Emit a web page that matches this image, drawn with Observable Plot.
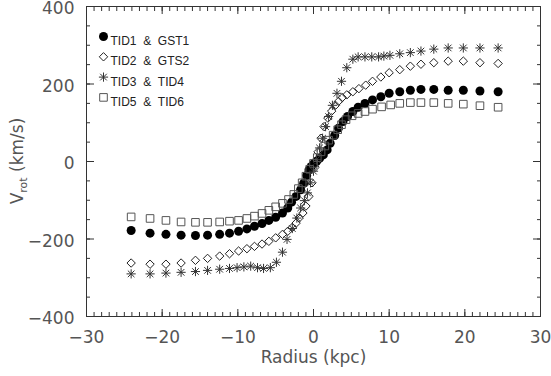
<!DOCTYPE html>
<html><head><meta charset="utf-8">
<script src="https://cdn.jsdelivr.net/npm/d3@7"></script>
<script src="https://cdn.jsdelivr.net/npm/@observablehq/plot@0.6"></script>
<style>
body{margin:0;background:#fff;}
</style></head><body><div id="chart"></div>
<script>
// TID1 & GST1 (filled circles)
const radiusTID1 = [-24.1,-21.6,-19.5,-17.5,-15.6,-14.0,-12.4,-11.1,-9.9,-8.8,-7.8,-6.8,-5.9,-5.0,-4.1,-3.4,-2.9,-2.3,-1.7,-1.3,-0.9,-0.6,-0.3,0.0,0.4,0.8,1.3,1.8,2.2,2.8,3.3,3.9,4.5,5.2,5.9,6.8,7.8,8.9,10.0,11.4,12.8,14.2,15.9,17.8,19.8,22.0,24.4];
const vrotTID1   = [-178,-185,-188,-190,-191,-190,-188,-185,-180,-174,-167,-160,-152,-144,-133,-120,-105,-90,-73,-56,-36,-22,-13,-6,0,8,17,30,47,67,86,103,116,129,140,150,159,167,176,180,184,186,186,184,184,182,180];
// TID2 & GTS2 (open diamonds)
const radiusTID2 = [-24.1,-21.6,-19.5,-17.5,-15.6,-14.0,-12.4,-11.1,-9.9,-8.8,-7.8,-6.8,-5.9,-5.0,-4.1,-3.4,-2.8,-2.3,-1.9,-1.4,-1.0,-0.6,-0.2,0.2,0.6,1.0,1.4,1.9,2.4,2.9,3.3,3.8,4.4,5.2,6.0,6.9,7.8,8.9,10.0,11.4,12.8,14.2,15.9,17.8,19.8,22.0,24.4];
const vrotTID2   = [-262,-265,-265,-262,-255,-250,-244,-238,-231,-225,-219,-213,-206,-197,-188,-180,-170,-159,-146,-133,-115,-90,-55,-15,25,60,90,112,130,145,155,165,172,180,188,197,207,218,229,237,246,251,255,259,259,255,253];
// TID3 & TID4 (asterisks)
const radiusTID3 = [-24.1,-21.6,-19.5,-17.5,-15.6,-14.0,-12.4,-11.1,-10.1,-9.2,-8.3,-7.4,-6.6,-5.7,-4.9,-4.1,-3.5,-2.8,-2.2,-1.7,-1.2,-0.8,-0.4,0.0,0.4,0.8,1.2,1.6,2.0,2.5,3.1,3.7,4.4,5.2,5.9,6.8,7.7,8.6,9.3,10.1,11.4,12.8,14.2,15.9,17.8,19.8,22.0,24.4];
const vrotTID3   = [-290,-290,-288,-286,-284,-281,-278,-276,-274,-272,-270,-274,-276,-274,-260,-234,-201,-173,-146,-120,-101,-81,-55,-25,5,35,60,90,116,145,176,207,242,264,270,270,270,270,272,274,278,281,285,290,293,293,293,293];
// TID5 & TID6 (open squares)
const radiusTID5 = [-24.1,-21.6,-19.5,-17.5,-15.6,-14.0,-12.4,-11.1,-9.9,-8.8,-7.8,-6.8,-5.9,-5.0,-4.1,-3.3,-2.6,-2.0,-1.5,-1.0,-0.5,0.0,0.5,1.0,1.5,2.0,2.6,3.2,3.7,4.3,5.1,5.9,6.8,7.8,9.0,10.2,11.4,12.8,14.2,15.9,17.8,19.8,22.0,24.4];
const vrotTID5   = [-143,-147,-152,-156,-157,-157,-156,-154,-152,-147,-141,-134,-126,-117,-108,-98,-85,-70,-55,-38,-20,-5,10,25,40,55,68,82,95,108,118,124,129,135,141,146,150,152,152,152,150,148,144,140];

const legendLabels = ["TID1\u00a0\u00a0&\u00a0\u00a0GST1","TID2\u00a0\u00a0&\u00a0\u00a0GTS2","TID3\u00a0\u00a0&\u00a0\u00a0TID4","TID5\u00a0\u00a0&\u00a0\u00a0TID6"];
const xTickLabels = [-30,-20,-10,0,10,20,30];
const yTickLabels = [-400,-200,0,200,400];
const xMinorTicks = d3.range(-30, 31, 1);
const yMinorTicks = d3.range(-400, 401, 50);

const rows = (r, v) => r.map((x, i) => ({r: x, v: v[i]}));
const dataTID1 = rows(radiusTID1, vrotTID1);
const dataTID2 = rows(radiusTID2, vrotTID2);
const dataTID3 = rows(radiusTID3, vrotTID3);
const dataTID5 = rows(radiusTID5, vrotTID5);

const half = size => Math.sqrt(size / Math.PI);
const squareSym = {draw(c, size){ const h = half(size); c.rect(-h, -h, 2*h, 2*h); }};
const diamondSym = {draw(c, size){ const h = half(size); c.moveTo(0,-h); c.lineTo(h,0); c.lineTo(0,h); c.lineTo(-h,0); c.closePath(); }};
const asteriskSym = {draw(c, size){ const h = half(size), d = h*0.72;
  c.moveTo(0,-h); c.lineTo(0,h); c.moveTo(-h,0); c.lineTo(h,0);
  c.moveTo(-d,-d); c.lineTo(d,d); c.moveTo(-d,d); c.lineTo(d,-d); }};

const styles = [
  {symbol: "circle", r: 4.5, fill: "#000", stroke: "none"},
  {symbol: diamondSym, r: 4.2, fill: "none", stroke: "#222", strokeWidth: 1},
  {symbol: asteriskSym, r: 4.6, fill: "none", stroke: "#333", strokeWidth: 1},
  {symbol: squareSym, r: 3.8, fill: "none", stroke: "#555", strokeWidth: 1}
];
const datasets = [dataTID1, dataTID2, dataTID3, dataTID5];

const legendMarks = [];
legendLabels.forEach((lab, i) => {
  const dy = 30 + i * 20.3;
  legendMarks.push(Plot.dot([lab], {frameAnchor: "top-left", dx: 17, dy, ...styles[i]}));
  legendMarks.push(Plot.text([lab], {frameAnchor: "top-left", dx: 24, dy, text: d => d, textAnchor: "start", fontSize: 12, fontFamily: "Liberation Sans", fill: "#222"}));
});

// inward ticks on all four sides (outward axis ticks shifted back inside the frame)
const tk = (axis, anchor, ticks, size) => {
  const shift = {bottom: {dy: -size}, top: {dy: size}, left: {dx: size}, right: {dx: -size}}[anchor];
  return axis({anchor, ticks, tickSize: size, fill: "none", stroke: "#333", label: null, ...shift});
};
const tickMarks = [
  tk(Plot.axisX, "bottom", xMinorTicks, 4),
  tk(Plot.axisX, "top", xMinorTicks, 4),
  tk(Plot.axisX, "bottom", xTickLabels, 7),
  tk(Plot.axisX, "top", xTickLabels, 7),
  tk(Plot.axisY, "left", yMinorTicks, 4),
  tk(Plot.axisY, "right", yMinorTicks, 4),
  tk(Plot.axisY, "left", yTickLabels, 8),
  tk(Plot.axisY, "right", yTickLabels, 8)
];

const plot = Plot.plot({
  width: 551, height: 376,
  marginLeft: 86, marginRight: 11, marginTop: 6, marginBottom: 60,
  x: {domain: [-30, 30]},
  y: {domain: [-400, 400]},
  style: {fontFamily: "DejaVu Sans", background: "white", color: "#222"},
  marks: [
    Plot.frame({stroke: "#333"}),
    ...tickMarks,
    Plot.axisX({anchor: "bottom", ticks: xTickLabels, tickSize: 0, tickPadding: 14, fontSize: 17, fill: "#555", label: null}),
    Plot.axisY({anchor: "left", ticks: yTickLabels, tickSize: 0, tickPadding: 12, dy: 2.5, fontSize: 17, fill: "#555", label: null}),
    Plot.text(["Radius (kpc)"], {frameAnchor: "bottom", dy: 46, text: d => d, fontSize: 17, fill: "#555"}),
    ...datasets.map((d, i) => Plot.dot(d, {x: "r", y: "v", ...styles[i]})),
    ...legendMarks
  ]
});

const svg = d3.select(plot);
const yl = svg.append("text")
  .attr("transform", "translate(23,161) rotate(-90)")
  .attr("text-anchor", "middle")
  .attr("font-size", 17)
  .attr("fill", "#555");
yl.append("tspan").text("V");
yl.append("tspan").attr("font-size", 11).attr("dy", 4).text("rot");
yl.append("tspan").attr("dy", -4).text("\u00a0(km/s)");

document.getElementById("chart").appendChild(plot);
</script>
</body></html>
